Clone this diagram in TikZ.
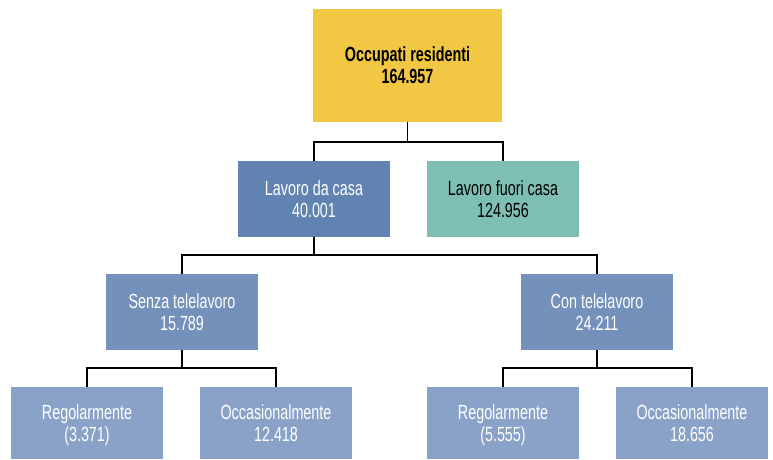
\documentclass[tikz,border=0pt]{standalone}
\usepackage{fontspec}
\setmainfont{Liberation Sans}[FakeStretch=0.7]
\usetikzlibrary{positioning}

\definecolor{occyellow}{HTML}{F2C744}
\definecolor{casablue}{HTML}{6183B1}
\definecolor{fuoriteal}{HTML}{7EBFB4}
\definecolor{telblue}{HTML}{7391BA}
\definecolor{freqblue}{HTML}{8AA2C8}

\begin{document}
\begin{tikzpicture}[x=1pt,y=-1pt]

\tikzstyle{box}=[rectangle,inner sep=0pt,minimum width={152pt},minimum height={76pt},align={center},text depth={-3pt},font={\fontsize{20.5}{22}\selectfont}]
\tikzstyle{link}=[line width={1.6pt},black]

\useasboundingbox (0,0) rectangle (773,459);

% boxes: top

\node at (407.5,65.5) [box,fill=occyellow,minimum width={189pt},minimum height={113pt},font={\fontsize{20.5}{22}\selectfont\bfseries}] (T) {Occupati residenti\\164.957} ;

% boxes: lavoro

\node at (314,199) [box,fill=casablue,text=white] (L) {Lavoro da casa\\40.001} ;
\node at (503,199) [box,fill=fuoriteal,text=black] (F) {Lavoro fuori casa\\124.956} ;

% boxes: telelavoro

\node at (182,312) [box,fill=telblue,text=white] (S) {Senza telelavoro\\15.789} ;
\node at (597,312) [box,fill=telblue,text=white] (C) {Con telelavoro\\24.211} ;

% boxes: frequenza

\node at (87,423)  [box,fill=freqblue,text=white,minimum height={72pt}] (R1) {Regolarmente\\(3.371)} ;
\node at (276,423) [box,fill=freqblue,text=white,minimum height={72pt}] (O1) {Occasionalmente\\12.418} ;
\node at (503,423) [box,fill=freqblue,text=white,minimum height={72pt}] (R2) {Regolarmente\\(5.555)} ;
\node at (692,423) [box,fill=freqblue,text=white,minimum height={72pt}] (O2) {Occasionalmente\\18.656} ;

% connections

\draw [link] (T.south) -- ++(0,20) -| (L.north) ;
\draw [link] (T.south) ++(0,20) -| (F.north) ;

\draw [link] (L.south) -- ++(0,18) -| (S.north) ;
\draw [link] (L.south) ++(0,18) -| (C.north) ;

\draw [link] (S.south) -- ++(0,18) -| (R1.north) ;
\draw [link] (S.south) ++(0,18) -| (O1.north) ;

\draw [link] (C.south) -- ++(0,18) -| (R2.north) ;
\draw [link] (C.south) ++(0,18) -| (O2.north) ;

\end{tikzpicture}
\end{document}
